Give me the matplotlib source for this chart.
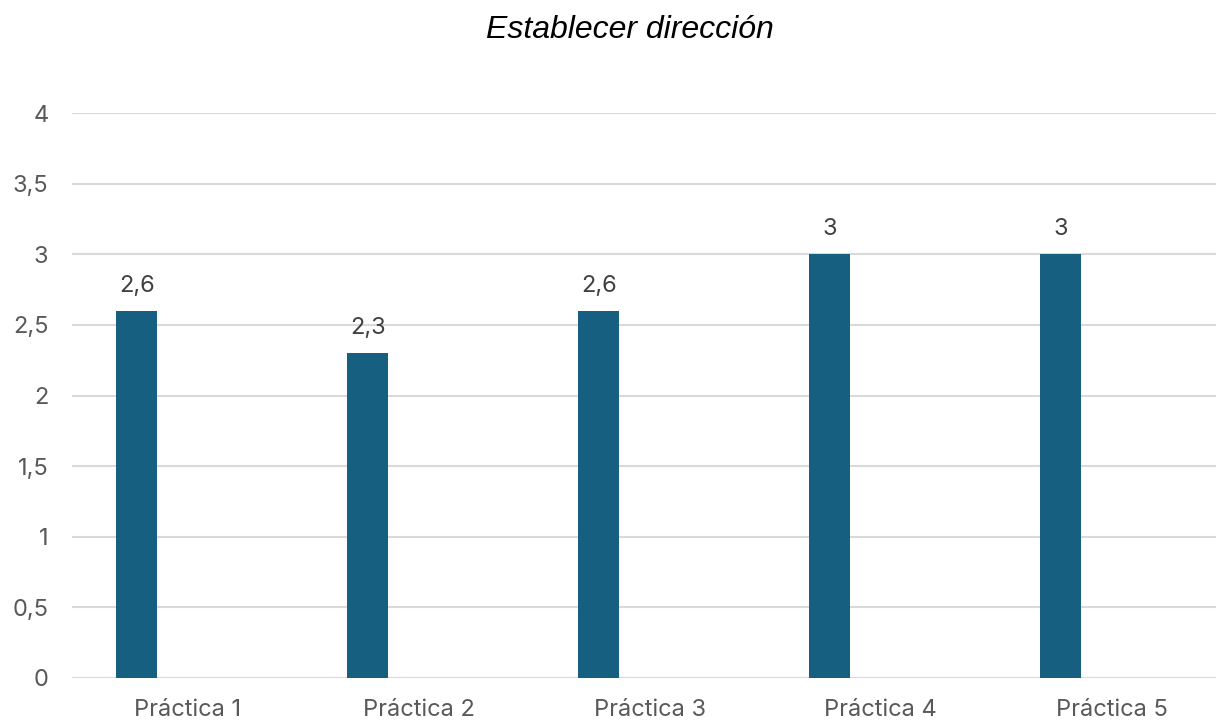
import matplotlib
matplotlib.use("Agg")
import matplotlib.pyplot as plt
import numpy as np

categories = ["Práctica 1", "Práctica 2", "Práctica 3", "Práctica 4", "Práctica 5"]
values = [2.6, 2.3, 2.6, 3.0, 3.0]
value_labels = ["2,6", "2,3", "2,6", "3", "3"]
yticks = [0, 0.5, 1, 1.5, 2, 2.5, 3, 3.5, 4]
ytick_labels = ["0", "0,5", "1", "1,5", "2", "2,5", "3", "3,5", "4"]

W, H = 1216, 721
fig = plt.figure(figsize=(W/100, H/100), dpi=100)
left, right = 72, 1227
bottom, top = 678, 113
ax = fig.add_axes([left/W, (H-bottom)/H, (right-left)/W, (bottom-top)/H])

x = np.arange(len(categories))
offset = -0.22
bw = 0.175
ax.bar(x + offset, values, width=bw, color="#175f81", zorder=3)
for xi, v, lab in zip(x, values, value_labels):
    ax.annotate(lab, (xi + offset, v), xytext=(0, 10), textcoords="offset points",
                ha="center", va="bottom", fontsize=17, color="#404040", family="Inter")

ax.set_xlim(-0.5, 4.5)
ax.set_ylim(0, 4)
ax.set_yticks(yticks)
ax.set_yticklabels(ytick_labels, fontsize=17, color="#595959", family="Inter")
ax.set_xticks(x)
ax.set_xticklabels(categories, fontsize=17, color="#595959", family="Inter")
ax.tick_params(axis="both", length=0)
ax.tick_params(axis="y", pad=17)
ax.tick_params(axis="x", pad=15)
ax.yaxis.grid(True, color="#d9d9d9", linewidth=1.5, zorder=0)
for s in ax.spines.values():
    s.set_visible(False)
ax.axhline(0, color="#d9d9d9", linewidth=1.5, zorder=1)

fig.text(630/W, 1 - 30/H, "Establecer dirección", ha="center", va="center",
         fontsize=23, style="italic", family="Liberation Sans", color="black")

fig.savefig("out.png", dpi=100)
